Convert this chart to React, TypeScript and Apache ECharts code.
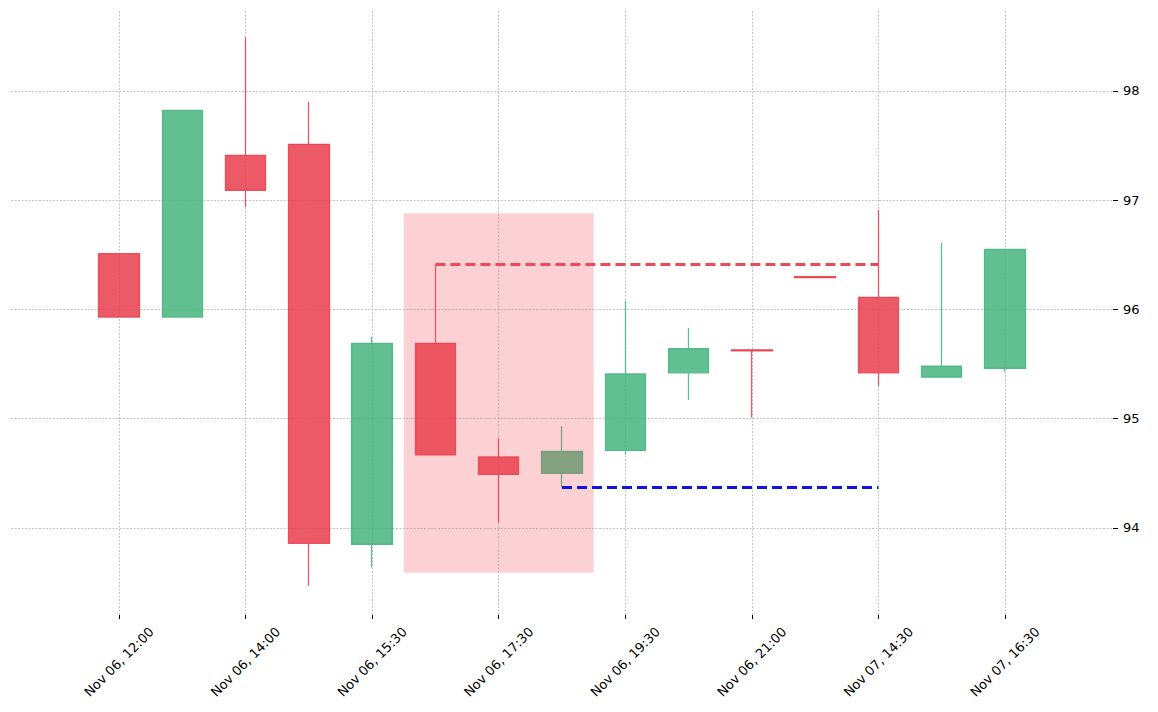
import { useEffect, useRef } from "react";
import * as echarts from "echarts";

const labels = [
  "Nov 06, 12:00",
  "Nov 06, 13:00",
  "Nov 06, 14:00",
  "Nov 06, 15:00",
  "Nov 06, 15:30",
  "Nov 06, 16:30",
  "Nov 06, 17:30",
  "Nov 06, 18:30",
  "Nov 06, 19:30",
  "Nov 06, 20:30",
  "Nov 06, 21:00",
  "Nov 07, 13:30",
  "Nov 07, 14:30",
  "Nov 07, 15:30",
  "Nov 07, 16:30",
];

// open, close, low, high
const opens = [96.51, 95.93, 97.41, 97.51, 93.85, 95.69, 94.65, 94.5, 94.71, 95.42, 95.63, 96.3, 96.11, 95.38, 95.46];
const closes = [95.93, 97.82, 97.09, 93.86, 95.69, 94.67, 94.49, 94.7, 95.41, 95.64, 95.62, 96.29, 95.42, 95.48, 96.55];
const lows = [95.93, 95.93, 96.94, 93.47, 93.64, 94.67, 94.05, 94.37, 94.67, 95.17, 95.01, 96.29, 95.3, 95.38, 95.43];
const highs = [96.51, 97.82, 98.49, 97.9, 95.75, 96.41, 94.82, 94.93, 96.08, 95.83, 95.63, 96.3, 96.91, 96.61, 96.55];

const xTicks = [0, 2, 4, 6, 8, 10, 12, 14];
const yTicks = [94, 95, 96, 97, 98];

const resistance = { from: 5, to: 12, value: 96.41 };
const support = { from: 7, to: 12, value: 94.37 };
const patternBox = { x0: 4.5, x1: 7.5, y0: 93.59, y1: 96.88 };

const RED = "rgba(232,61,75,0.85)";
const GREEN = "rgba(69,180,126,0.85)";

export default function App() {
  const ref = useRef<HTMLDivElement | null>(null);

  useEffect(() => {
    document.body.style.margin = "0";
    if (!ref.current) return;
    const chart = echarts.init(ref.current, undefined, { renderer: "svg" });
    const data = labels.map((_, i) => [i, opens[i], closes[i], lows[i], highs[i]]);
    const gridLine = { show: true, lineStyle: { color: "#b5b5b5", width: 0.8, type: [2, 1.5] } };

    chart.setOption({
      animation: false,
      textStyle: { fontFamily: "DejaVu Sans" },
      grid: { left: 11, right: 45, top: 11, bottom: 97 },
      xAxis: {
        type: "value",
        min: -1.706,
        max: 15.706,
        axisLine: { show: false, onZero: false },
        axisTick: { show: true, length: 4, customValues: xTicks, lineStyle: { color: "#000" } },
        splitLine: gridLine,
        axisLabel: {
          customValues: xTicks,
          rotate: 45,
          align: "center",
          verticalAlign: "middle",
          margin: 47,
          fontSize: 13,
          color: "#000",
          formatter: (v: number) => labels[Math.round(v)] ?? "",
        },
      },
      yAxis: {
        type: "value",
        position: "right",
        min: 93.204,
        max: 98.73,
        axisLine: { show: false, onZero: false },
        axisTick: { show: true, length: 5, customValues: yTicks, lineStyle: { color: "#000" } },
        splitLine: gridLine,
        axisLabel: { customValues: yTicks, margin: 10, fontSize: 13, color: "#000" },
      },
      series: [
        {
          type: "candlestick",
          encode: { x: 0, y: [1, 2, 3, 4] },
          barWidth: 41,
          data,
          itemStyle: {
            color: GREEN,
            color0: RED,
            borderColor: GREEN,
            borderColor0: RED,
            borderWidth: 1.3,
          },
          markLine: {
            silent: true,
            symbol: "none",
            label: { show: false },
            data: [
              [
                { coord: [resistance.from, resistance.value], lineStyle: { color: "#f0485a" } },
                { coord: [resistance.to, resistance.value] },
              ],
              [
                { coord: [support.from, support.value], lineStyle: { color: "#1212e6" } },
                { coord: [support.to, support.value] },
              ],
            ],
            lineStyle: { type: [10, 5], width: 2.8 },
          },
        },
        {
          type: "line",
          data: [],
          z: 5,
          markArea: {
            silent: true,
            z: 5,
            itemStyle: { color: "rgba(240,70,85,0.25)" },
            data: [
              [
                { coord: [patternBox.x0, patternBox.y1] },
                { coord: [patternBox.x1, patternBox.y0] },
              ],
            ],
          },
        },
      ],
    });

    return () => chart.dispose();
  }, []);

  return <div ref={ref} style={{ width: 1158, height: 712 }} />;
}
